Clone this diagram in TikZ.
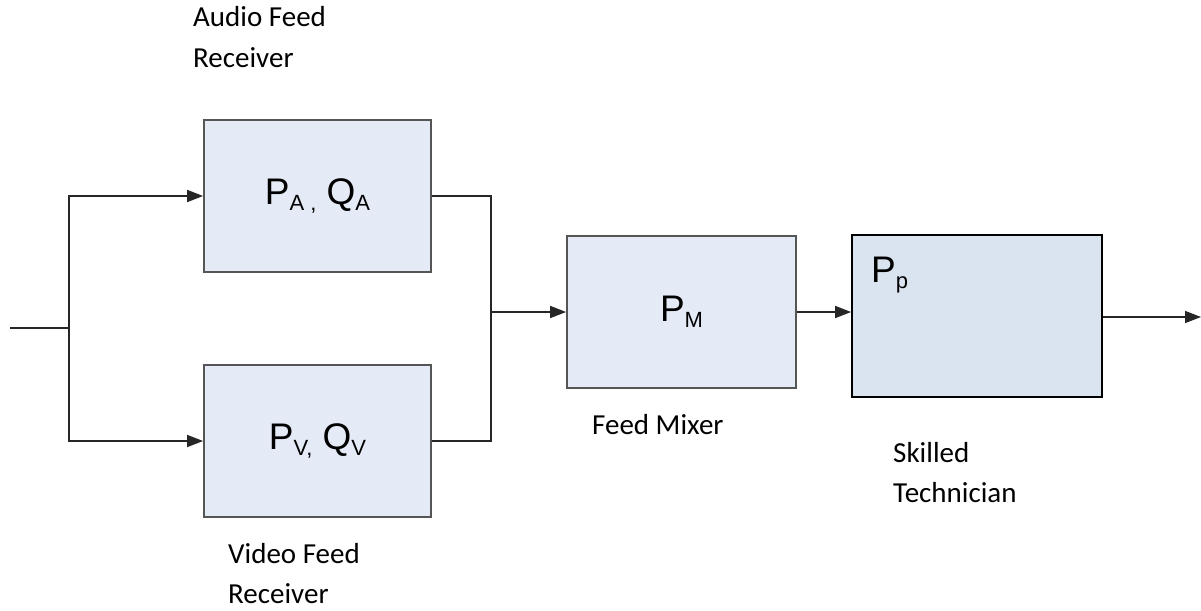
\documentclass[tikz,border=0pt]{standalone}
\usepackage{fontspec}
\setmainfont{Carlito}
\newfontfamily\boxfont{Liberation Sans}
\usetikzlibrary{arrows.meta}

\definecolor{blockfill}{HTML}{E4EAF6}
\definecolor{techfill}{HTML}{DAE3F0}
\definecolor{blockline}{HTML}{555555}

% subscript set in a smaller size, dropped below the baseline
\newcommand{\lowsub}[1]{{\fontsize{22}{22}\selectfont\raisebox{-6pt}{#1}}}

\tikzset{
  block/.style={draw=blockline, line width=1.8pt, fill=blockfill, inner sep=0pt,
    font=\boxfont\fontsize{37}{37}\selectfont},
  techblock/.style={draw=black, line width=1.8pt, fill=techfill, inner sep=0pt},
  wire/.style={line width=1.6pt, draw=black!85},
  flow/.style={wire, -{Triangle[length=16pt,width=12pt]}},
  caption/.style={font=\fontsize{29}{40}\selectfont, align=left, inner sep=0pt, anchor=base west},
}

\begin{document}
\begin{tikzpicture}[x=1pt,y=-1pt]
  \useasboundingbox (0,0) rectangle (1201,610);

  % blocks
  \node[block, minimum width=227pt, minimum height=152pt] (A) at (317.5,196)
    {P\lowsub{A ,} Q\lowsub{A}};
  \node[block, minimum width=227pt, minimum height=152pt] (V) at (317.5,441)
    {P\lowsub{V,} Q\lowsub{V}};
  \node[block, minimum width=229pt, minimum height=152pt] (M) at (681.5,312)
    {P\lowsub{M}};
  \node[techblock, minimum width=250pt, minimum height=162pt] (T) at (977,316) {};
  \node[font=\boxfont\fontsize{37}{37}\selectfont, anchor=base west, inner sep=0pt]
    (Tlabel) at (871,282) {P\lowsub{p}};

  % wiring
  \coordinate (in) at (10,328);
  \coordinate (split) at (69,328);
  \coordinate (join) at (491,312);
  \coordinate (out) at (1201,317);

  \draw[wire] (in) -- (split);
  \draw[flow] (split) |- (A.west);
  \draw[flow] (split) |- (V.west);
  \draw[wire] (A.east) -| (join);
  \draw[wire] (V.east) -| (join);
  \draw[flow] (join) -- (M.west);
  \draw[flow] (M.east) -- (M.east -| T.west);
  \draw[flow] (T.east |- out) -- (out);

  % captions (anchored on the baseline of their last line)
  \node[caption] (capA) at (193,67) {Audio Feed\\Receiver};
  \node[caption] (capV) at (228,603) {Video Feed\\Receiver};
  \node[caption] (capM) at (592,434) {Feed Mixer};
  \node[caption] (capT) at (893,502) {Skilled\\Technician};
\end{tikzpicture}
\end{document}
